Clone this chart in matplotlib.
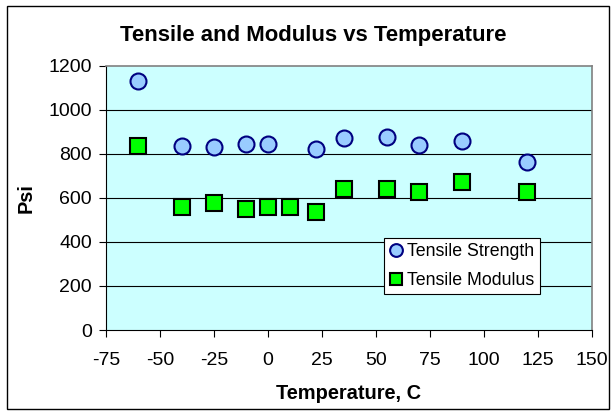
import matplotlib.pyplot as plt

plt.rcParams['font.family'] = ['Liberation Sans', 'DejaVu Sans']
plt.rcParams['axes.unicode_minus'] = False

# temperature (C) and measured values (psi)
temp_strength = [-60, -40, -25, -10, 0, 22, 35, 55, 70, 90, 120]
tensile_strength = [1130, 835, 832, 845, 847, 821, 874, 876, 841, 859, 763]
temp_modulus = [-60, -40, -25, -10, 0, 10, 22, 35, 55, 70, 90, 120]
tensile_modulus = [836, 560, 575, 551, 561, 561, 538, 642, 641, 625, 671, 625]

xticks = [-75, -50, -25, 0, 25, 50, 75, 100, 125, 150]
yticks = [0, 200, 400, 600, 800, 1000, 1200]

fig = plt.figure(figsize=(6.15, 4.15), dpi=100)
ax = fig.add_axes([106/615, 1 - 330/415, 486/615, 264/415])
ax.set_facecolor('#CCFFFF')

# chart-area frame
fig.patches.append(plt.Rectangle((7/615, 6/415), 602/615, 403/415, transform=fig.transFigure,
                                 fill=False, edgecolor='black', linewidth=1.0))

for y in yticks[1:-1]:
    ax.axhline(y, color='black', linewidth=0.8, zorder=1)

ax.plot(temp_strength, tensile_strength, linestyle='none', marker='o', markersize=11.5,
        markerfacecolor='#99CCFF', markeredgecolor='#000080', markeredgewidth=1.5,
        label='Tensile Strength', zorder=3)
ax.plot(temp_modulus, tensile_modulus, linestyle='none', marker='s', markersize=11,
        markerfacecolor='#00FF00', markeredgecolor='black', markeredgewidth=1.5,
        label='Tensile Modulus', zorder=3)

ax.set_xlim(-75, 150)
ax.set_ylim(0, 1200)
ax.set_xticks(xticks)
ax.set_yticks(yticks)
ax.tick_params(labelsize=14, length=5, width=0.8, direction='out', pad=5)
ax.tick_params(axis='x', pad=11)

for s in ['top', 'right']:
    ax.spines[s].set_color('#808080')
    ax.spines[s].set_linewidth(1.2)
for s in ['left', 'bottom']:
    ax.spines[s].set_color('black')
    ax.spines[s].set_linewidth(0.8)

fig.text(313/615, 1 - 36/415, 'Tensile and Modulus vs Temperature', ha='center', va='center',
         fontsize=15.9, fontweight='bold')
fig.text(349/615, 1 - 393/415, 'Temperature, C', ha='center', va='center',
         fontsize=14.4, fontweight='bold')
fig.text(26/615, 1 - 198/415, 'Psi', ha='center', va='center', rotation=90,
         fontsize=14.4, fontweight='bold')

leg = ax.legend(loc='upper left', bbox_to_anchor=((384 - 106) / 486, (330 - 238) / 264),
                frameon=True, fancybox=False, shadow=False, fontsize=12.8,
                handlelength=0.8, handletextpad=0.2, borderpad=0.3, labelspacing=0.65,
                borderaxespad=0, markerscale=0.8)
leg.get_frame().set_edgecolor('black')
leg.get_frame().set_linewidth(0.8)
leg.get_frame().set_alpha(1)

fig.savefig('out.png', dpi=100)
